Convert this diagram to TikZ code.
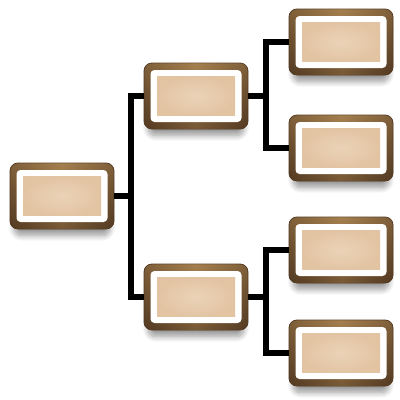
\documentclass[tikz,border=0pt]{standalone}
\usetikzlibrary{shadows.blur,calc}
\definecolor{rimtop}{HTML}{A5804F}
\definecolor{rimbot}{HTML}{533A22}
\definecolor{peach}{HTML}{EBD3B7}
\definecolor{peachedge}{HTML}{E2C4A3}
\tikzset{
  outerbox/.style={rounded corners=8pt, minimum width=104pt, minimum height=66pt,
    inner sep=0pt, top color=rimtop, bottom color=rimbot, draw=rimbot, line width=0.8pt,
    blur shadow={shadow xshift=0pt, shadow yshift=-10pt, shadow opacity=40, shadow blur steps=10, shadow blur radius=6pt, shadow scale=0.92}},
  rimsides/.style={rounded corners=8pt, minimum width=104pt, minimum height=66pt,
    inner sep=0pt, left color=rimbot, right color=rimbot, middle color=rimtop, opacity=0.45},
  whitebox/.style={rounded corners=4pt, minimum width=91pt, minimum height=52pt, inner sep=0pt, fill=white},
  peachbox/.style={minimum width=78pt, minimum height=39pt, inner sep=0pt,
    inner color=peach, outer color=peachedge},
  conn/.style={line width=5.5pt, black}
}
\newcommand{\boxat}[3]{%
  \node[outerbox] (#1) at (#2,#3) {};
  \node[rimsides] (#1s) at (#1) {};
  \node[whitebox] (#1w) at (#1) {};
  \node[peachbox] (#1p) at (#1) {};
}
\begin{document}
\begin{tikzpicture}[x=1pt,y=-1pt]
\useasboundingbox (0,0) rectangle (400,400);
\boxat{r}{62}{196}
\boxat{ma}{196}{96}
\boxat{mb}{196}{297}
\boxat{ra}{341}{42}
\boxat{rb}{341}{148}
\boxat{rc}{341}{250}
\boxat{rd}{341}{353}
\coordinate (j1) at (131,196);
\coordinate (j2) at (266,96);
\coordinate (j3) at (266,297);
\draw[conn] (r.east) -- (j1);
\draw[conn] (ma.west) -| (j1) |- (mb.west);
\draw[conn] (ma.east) -- (j2);
\draw[conn] (ra.west) -| (j2) |- (rb.west);
\draw[conn] (mb.east) -- (j3);
\draw[conn] (rc.west) -| (j3) |- (rd.west);
\end{tikzpicture}
\end{document}
